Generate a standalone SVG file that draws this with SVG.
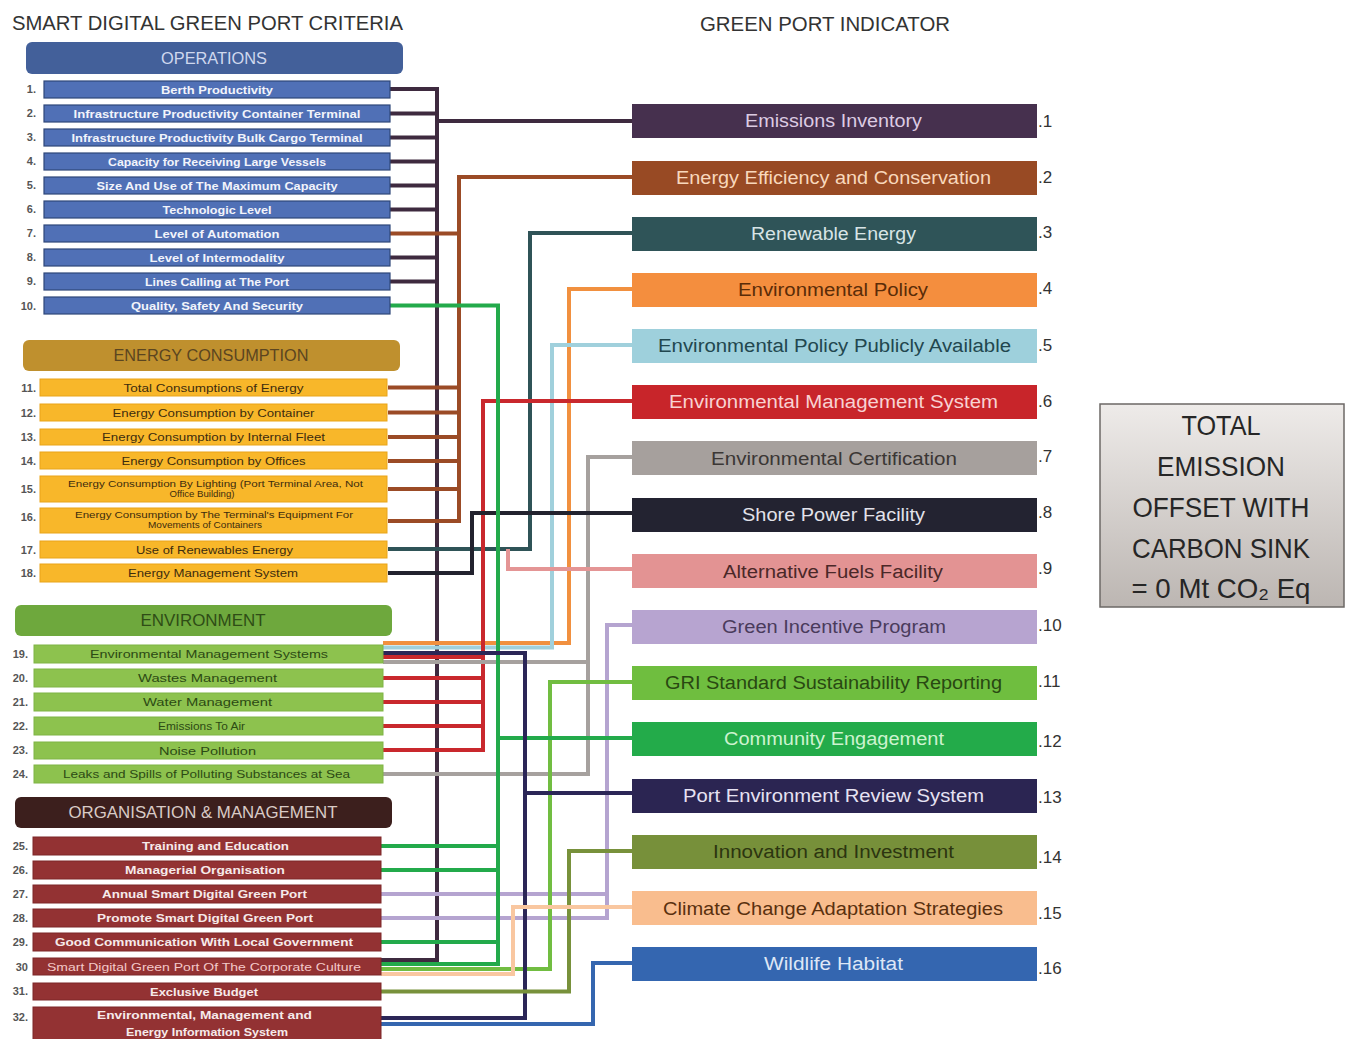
<svg xmlns="http://www.w3.org/2000/svg" width="1348" height="1039" viewBox="0 0 1348 1039">
  <defs>
    <linearGradient id="sinkFill" x1="0" y1="0" x2="0" y2="1">
      <stop offset="0" stop-color="#eeebe9"/>
      <stop offset="1" stop-color="#bcb6b2"/>
    </linearGradient>
    <style>
      text { font-family: "Liberation Sans", Arial, sans-serif; }
      .title { font-size: 20px; fill: #333333; }
      .hdr { font-size: 16px; text-anchor: middle; }
      .ops rect { fill: #5070b6; stroke: #2e4679; stroke-width: 1.2; }
      .ops text { font-size: 11px; font-weight: bold; fill: #f2f4fb; text-anchor: middle; }
      .nrg rect { fill: #f8b72a; stroke: #e9a418; stroke-width: 1; }
      .nrg text { font-size: 11px; fill: #3d2c0e; text-anchor: middle; }
      .env rect { fill: #8dc24e; stroke: #7fb444; stroke-width: 1; }
      .env text { font-size: 11.5px; fill: #2c4a14; text-anchor: middle; }
      .org rect { fill: #933233; stroke: #7d2728; stroke-width: 1; }
      .org text { font-size: 11px; font-weight: bold; fill: #f6eaea; text-anchor: middle; }
      g > text.num { font-size: 11px; fill: #555555; text-anchor: end; font-weight: bold; }
      .ind text.lbl { font-size: 18px; text-anchor: middle; }
      .ind text.idx { font-size: 17px; fill: #333; }
      .sink text { font-size: 28px; fill: #262626; text-anchor: middle; }
      #connectors path { fill: none; stroke-width: 4; stroke-linejoin: miter; stroke-linecap: butt; }
    </style>
  </defs>

  <rect width="1348" height="1039" fill="#ffffff"/>

  <!-- column titles -->
  <text class="title" x="12" y="30" textLength="391" lengthAdjust="spacingAndGlyphs">SMART DIGITAL GREEN PORT CRITERIA</text>
  <text class="title" x="700" y="31" textLength="250" lengthAdjust="spacingAndGlyphs">GREEN PORT INDICATOR</text>

  <!-- category headers -->
  <g id="hdr-operations">
    <rect x="26" y="42" width="377" height="32" rx="6" fill="#43609a"/>
    <text class="hdr" x="214" y="64" fill="#cfd8ee" textLength="106" lengthAdjust="spacingAndGlyphs">OPERATIONS</text>
  </g>
  <g id="hdr-energy">
    <rect x="23" y="340" width="377" height="31" rx="6" fill="#bf902e"/>
    <text class="hdr" x="211" y="361" fill="#5b4520" textLength="195" lengthAdjust="spacingAndGlyphs">ENERGY CONSUMPTION</text>
  </g>
  <g id="hdr-environment">
    <rect x="15" y="605" width="377" height="31" rx="6" fill="#6ea83d"/>
    <text class="hdr" x="203" y="626" fill="#2f4d16" textLength="125" lengthAdjust="spacingAndGlyphs">ENVIRONMENT</text>
  </g>
  <g id="hdr-organisation">
    <rect x="15" y="797" width="377" height="31" rx="6" fill="#3c1f1d"/>
    <text class="hdr" x="203" y="818" fill="#d9cbc6" textLength="269" lengthAdjust="spacingAndGlyphs">ORGANISATION &amp; MANAGEMENT</text>
  </g>

  <!-- connectors -->
  <g id="connectors">
    <path stroke="#3e2a3f" d="M390 89 H437 V960 H381 M437 121 H632 M390 113.5 H437 M390 137.5 H437 M390 161.5 H437 M390 185.5 H437 M390 209.5 H437 M390 257.5 H437 M390 281.5 H437"/>
    <path stroke="#9b4b26" d="M632 177 H459 V521 H388 M390 233.5 H459 M388 387.5 H459 M388 412.5 H459 M388 437 H459 M388 461 H459 M388 489 H459"/>
    <path stroke="#2f5357" d="M632 233 H530 V549 H388"/>
    <path stroke="#f1903f" d="M632 289 H569 V643 H383"/>
    <path stroke="#a0d0dc" d="M632 345 H552 V647.5 H383"/>
    <path stroke="#c9282d" d="M632 401 H483 V750 H383 M383 657 H483 M383 678 H483 M383 702 H483 M383 726 H483"/>
    <path stroke="#a6a19e" d="M632 457 H588 V774 H383 M383 662 H588"/>
    <path stroke="#22222e" d="M632 513 H472 V573 H388"/>
    <path stroke="#e49595" d="M632 569 H508 V549"/>
    <path stroke="#b5a4d0" d="M632 625 H607 V918 H381 M381 894 H607"/>
    <path stroke="#71bd41" d="M632 682 H550 V969 H381"/>
    <path stroke="#23aa4b" d="M390 305.5 H498 V964 H381 M498 738 H632 M381 846 H498 M381 870 H498 M381 942 H498"/>
    <path stroke="#2b2657" d="M383 653 H525 V1018 H381 M525 793 H632"/>
    <path stroke="#78913b" d="M632 851 H569 V991.5 H381"/>
    <path stroke="#f9c7a0" stroke-width="3" d="M632 907 H513 V974 H381"/>
    <path stroke="#3566af" d="M632 963 H593 V1024 H381"/>
  </g>

  <!-- OPERATIONS criteria -->
  <g class="ops">
    <g id="c1"><text class="num" x="36" y="93">1.</text><rect x="44" y="81" width="346" height="17"/><text x="217" y="93.5" textLength="112" lengthAdjust="spacingAndGlyphs">Berth Productivity</text></g>
    <g id="c2"><text class="num" x="36" y="117">2.</text><rect x="44" y="105" width="346" height="17"/><text x="217" y="117.5" textLength="287" lengthAdjust="spacingAndGlyphs">Infrastructure Productivity Container Terminal</text></g>
    <g id="c3"><text class="num" x="36" y="141">3.</text><rect x="44" y="129" width="346" height="17"/><text x="217" y="141.5" textLength="291" lengthAdjust="spacingAndGlyphs">Infrastructure Productivity Bulk Cargo Terminal</text></g>
    <g id="c4"><text class="num" x="36" y="165">4.</text><rect x="44" y="153" width="346" height="17"/><text x="217" y="165.5" textLength="218" lengthAdjust="spacingAndGlyphs">Capacity for Receiving Large Vessels</text></g>
    <g id="c5"><text class="num" x="36" y="189">5.</text><rect x="44" y="177" width="346" height="17"/><text x="217" y="189.5" textLength="241" lengthAdjust="spacingAndGlyphs">Size And Use of The Maximum Capacity</text></g>
    <g id="c6"><text class="num" x="36" y="213">6.</text><rect x="44" y="201" width="346" height="17"/><text x="217" y="213.5" textLength="109" lengthAdjust="spacingAndGlyphs">Technologic Level</text></g>
    <g id="c7"><text class="num" x="36" y="237">7.</text><rect x="44" y="225" width="346" height="17"/><text x="217" y="237.5" textLength="125" lengthAdjust="spacingAndGlyphs">Level of Automation</text></g>
    <g id="c8"><text class="num" x="36" y="261">8.</text><rect x="44" y="249" width="346" height="17"/><text x="217" y="261.5" textLength="135" lengthAdjust="spacingAndGlyphs">Level of Intermodality</text></g>
    <g id="c9"><text class="num" x="36" y="285">9.</text><rect x="44" y="273" width="346" height="17"/><text x="217" y="285.5" textLength="144" lengthAdjust="spacingAndGlyphs">Lines Calling at The Port</text></g>
    <g id="c10"><text class="num" x="36" y="310">10.</text><rect x="44" y="297" width="346" height="17"/><text x="217" y="309.5" textLength="172" lengthAdjust="spacingAndGlyphs">Quality, Safety And Security</text></g>
  </g>

  <!-- ENERGY CONSUMPTION criteria -->
  <g class="nrg">
    <g id="c11"><text class="num" x="36" y="392">11.</text><rect x="40" y="379" width="347" height="17"/><text x="213.5" y="391.5" textLength="180" lengthAdjust="spacingAndGlyphs">Total Consumptions of Energy</text></g>
    <g id="c12"><text class="num" x="36" y="417">12.</text><rect x="40" y="404" width="347" height="17"/><text x="213.5" y="416.5" textLength="202" lengthAdjust="spacingAndGlyphs">Energy Consumption by Container</text></g>
    <g id="c13"><text class="num" x="36" y="441">13.</text><rect x="40" y="429" width="347" height="16"/><text x="213.5" y="441" textLength="223" lengthAdjust="spacingAndGlyphs">Energy Consumption by Internal Fleet</text></g>
    <g id="c14"><text class="num" x="36" y="465">14.</text><rect x="40" y="452" width="347" height="17"/><text x="213.5" y="464.5" textLength="184" lengthAdjust="spacingAndGlyphs">Energy Consumption by Offices</text></g>
    <g id="c15"><text class="num" x="36" y="493">15.</text><rect x="40" y="476" width="347" height="26"/>
      <text x="215.5" y="487" style="font-size:9.5px" textLength="295" lengthAdjust="spacingAndGlyphs">Energy Consumption By Lighting (Port Terminal Area, Not</text>
      <text x="202" y="497" style="font-size:9.5px" textLength="65" lengthAdjust="spacingAndGlyphs">Office Building)</text></g>
    <g id="c16"><text class="num" x="36" y="521">16.</text><rect x="40" y="508" width="347" height="25"/>
      <text x="214" y="518" style="font-size:9.5px" textLength="278" lengthAdjust="spacingAndGlyphs">Energy Consumption by The Terminal's Equipment For</text>
      <text x="205" y="528" style="font-size:9.5px" textLength="114" lengthAdjust="spacingAndGlyphs">Movements of Containers</text></g>
    <g id="c17"><text class="num" x="36" y="554">17.</text><rect x="40" y="541" width="347" height="17"/><text x="214.5" y="553.5" textLength="157" lengthAdjust="spacingAndGlyphs">Use of Renewables Energy</text></g>
    <g id="c18"><text class="num" x="36" y="577">18.</text><rect x="40" y="564" width="347" height="18"/><text x="213" y="577" textLength="170" lengthAdjust="spacingAndGlyphs">Energy Management System</text></g>
  </g>

  <!-- ENVIRONMENT criteria -->
  <g class="env">
    <g id="c19"><text class="num" x="28" y="658">19.</text><rect x="34" y="645" width="349" height="18"/><text x="209" y="658" textLength="238" lengthAdjust="spacingAndGlyphs">Environmental Management Systems</text></g>
    <g id="c20"><text class="num" x="28" y="682">20.</text><rect x="34" y="669" width="349" height="18"/><text x="207.5" y="682" textLength="139" lengthAdjust="spacingAndGlyphs">Wastes Management</text></g>
    <g id="c21"><text class="num" x="28" y="706">21.</text><rect x="34" y="693" width="349" height="18"/><text x="207.5" y="706" textLength="129" lengthAdjust="spacingAndGlyphs">Water Management</text></g>
    <g id="c22"><text class="num" x="28" y="730">22.</text><rect x="34" y="717" width="349" height="18"/><text x="201.5" y="730" textLength="87" lengthAdjust="spacingAndGlyphs">Emissions To Air</text></g>
    <g id="c23"><text class="num" x="28" y="754">23.</text><rect x="34" y="742" width="349" height="17"/><text x="207.5" y="754.5" textLength="97" lengthAdjust="spacingAndGlyphs">Noise Pollution</text></g>
    <g id="c24"><text class="num" x="28" y="778">24.</text><rect x="34" y="765" width="349" height="18"/><text x="206.5" y="778" textLength="287" lengthAdjust="spacingAndGlyphs">Leaks and Spills of Polluting Substances at Sea</text></g>
  </g>

  <!-- ORGANISATION & MANAGEMENT criteria -->
  <g class="org">
    <g id="c25"><text class="num" x="28" y="850">25.</text><rect x="33" y="837" width="348" height="18"/><text x="215.5" y="850" textLength="147" lengthAdjust="spacingAndGlyphs">Training and Education</text></g>
    <g id="c26"><text class="num" x="28" y="874">26.</text><rect x="33" y="861" width="348" height="18"/><text x="205" y="874" textLength="160" lengthAdjust="spacingAndGlyphs">Managerial Organisation</text></g>
    <g id="c27"><text class="num" x="28" y="898">27.</text><rect x="33" y="885" width="348" height="18"/><text x="204.5" y="898" textLength="205" lengthAdjust="spacingAndGlyphs">Annual Smart Digital Green Port</text></g>
    <g id="c28"><text class="num" x="28" y="922">28.</text><rect x="33" y="909" width="348" height="18"/><text x="205" y="922" textLength="216" lengthAdjust="spacingAndGlyphs">Promote Smart Digital Green Port</text></g>
    <g id="c29"><text class="num" x="28" y="946">29.</text><rect x="33" y="933" width="348" height="18"/><text x="204" y="946" textLength="298" lengthAdjust="spacingAndGlyphs">Good Communication With Local Government</text></g>
    <g id="c30"><text class="num" x="28" y="971">30</text><rect x="33" y="958" width="348" height="17"/><text x="204" y="970.5" style="font-weight:normal;fill:#f3c9c9" textLength="314" lengthAdjust="spacingAndGlyphs">Smart Digital Green Port Of The Corporate Culture</text></g>
    <g id="c31"><text class="num" x="28" y="995">31.</text><rect x="33" y="983" width="348" height="17"/><text x="204" y="995.5" textLength="108" lengthAdjust="spacingAndGlyphs">Exclusive Budget</text></g>
    <g id="c32"><text class="num" x="28" y="1021">32.</text><rect x="33" y="1007" width="348" height="36"/>
      <text x="204.5" y="1019" textLength="215" lengthAdjust="spacingAndGlyphs">Environmental, Management and</text>
      <text x="207" y="1036" textLength="162" lengthAdjust="spacingAndGlyphs">Energy Information System</text></g>
  </g>

  <!-- green port indicators -->
  <g class="ind">
    <g id="i1"><rect x="632" y="104" width="405" height="34" fill="#46304e"/><text class="lbl" x="833.5" y="127" fill="#dccbe2" textLength="177" lengthAdjust="spacingAndGlyphs">Emissions Inventory</text><text class="idx" x="1038" y="127">.1</text></g>
    <g id="i2"><rect x="632" y="161" width="405" height="34" fill="#984a24"/><text class="lbl" x="833.5" y="184" fill="#f8d8bc" textLength="315" lengthAdjust="spacingAndGlyphs">Energy Efficiency and Conservation</text><text class="idx" x="1038" y="183">.2</text></g>
    <g id="i3"><rect x="632" y="217" width="405" height="34" fill="#2f5458"/><text class="lbl" x="833.5" y="240" fill="#d8e4e6" textLength="165" lengthAdjust="spacingAndGlyphs">Renewable Energy</text><text class="idx" x="1038" y="238">.3</text></g>
    <g id="i4"><rect x="632" y="273" width="405" height="34" fill="#f48e3e"/><text class="lbl" x="833" y="296" fill="#5a2c08" textLength="190" lengthAdjust="spacingAndGlyphs">Environmental Policy</text><text class="idx" x="1038" y="294">.4</text></g>
    <g id="i5"><rect x="632" y="329" width="405" height="34" fill="#9ed0dc"/><text class="lbl" x="834.5" y="352" fill="#22474f" textLength="353" lengthAdjust="spacingAndGlyphs">Environmental Policy Publicly Available</text><text class="idx" x="1038" y="351">.5</text></g>
    <g id="i6"><rect x="632" y="385" width="405" height="34" fill="#c8252a"/><text class="lbl" x="833.5" y="408" fill="#f8d2d2" textLength="329" lengthAdjust="spacingAndGlyphs">Environmental Management System</text><text class="idx" x="1038" y="407">.6</text></g>
    <g id="i7"><rect x="632" y="441" width="405" height="34" fill="#a6a09d"/><text class="lbl" x="834" y="465" fill="#3b3735" textLength="246" lengthAdjust="spacingAndGlyphs">Environmental Certification</text><text class="idx" x="1038" y="462">.7</text></g>
    <g id="i8"><rect x="632" y="498" width="405" height="34" fill="#232331"/><text class="lbl" x="833.5" y="521" fill="#e2e2ea" textLength="183" lengthAdjust="spacingAndGlyphs">Shore Power Facility</text><text class="idx" x="1038" y="518">.8</text></g>
    <g id="i9"><rect x="632" y="554" width="405" height="34" fill="#e39393"/><text class="lbl" x="833" y="578" fill="#4a2828" textLength="220" lengthAdjust="spacingAndGlyphs">Alternative Fuels Facility</text><text class="idx" x="1038" y="574">.9</text></g>
    <g id="i10"><rect x="632" y="610" width="405" height="34" fill="#b7a4d0"/><text class="lbl" x="834" y="633" fill="#4a3b5c" textLength="224" lengthAdjust="spacingAndGlyphs">Green Incentive Program</text><text class="idx" x="1038" y="631">.10</text></g>
    <g id="i11"><rect x="632" y="666" width="405" height="34" fill="#6fbe3f"/><text class="lbl" x="833.5" y="689" fill="#294812" textLength="337" lengthAdjust="spacingAndGlyphs">GRI Standard Sustainability Reporting</text><text class="idx" x="1038" y="687">.11</text></g>
    <g id="i12"><rect x="632" y="722" width="405" height="34" fill="#23ab4a"/><text class="lbl" x="834" y="745" fill="#cdf3cf" textLength="220" lengthAdjust="spacingAndGlyphs">Community Engagement</text><text class="idx" x="1038" y="747">.12</text></g>
    <g id="i13"><rect x="632" y="779" width="405" height="34" fill="#2b2552"/><text class="lbl" x="833.5" y="802" fill="#e6e2f2" textLength="301" lengthAdjust="spacingAndGlyphs">Port Environment Review System</text><text class="idx" x="1038" y="803">.13</text></g>
    <g id="i14"><rect x="632" y="835" width="405" height="34" fill="#77903a"/><text class="lbl" x="833.5" y="858" fill="#2c3510" textLength="241" lengthAdjust="spacingAndGlyphs">Innovation and Investment</text><text class="idx" x="1038" y="863">.14</text></g>
    <g id="i15"><rect x="632" y="891" width="405" height="34" fill="#f9bd8e"/><text class="lbl" x="833" y="915" fill="#5a300e" textLength="340" lengthAdjust="spacingAndGlyphs">Climate Change Adaptation Strategies</text><text class="idx" x="1038" y="919">.15</text></g>
    <g id="i16"><rect x="632" y="947" width="405" height="34" fill="#3466b0"/><text class="lbl" x="833.5" y="970" fill="#dee7f6" textLength="139" lengthAdjust="spacingAndGlyphs">Wildlife Habitat</text><text class="idx" x="1038" y="974">.16</text></g>
  </g>

  <!-- carbon sink summary -->
  <g id="total-emission" class="sink">
    <rect x="1100" y="404" width="244" height="203" fill="url(#sinkFill)" stroke="#6c6866" stroke-width="1.5"/>
    <text x="1221" y="435" textLength="79" lengthAdjust="spacingAndGlyphs">TOTAL</text>
    <text x="1221" y="476" textLength="128" lengthAdjust="spacingAndGlyphs">EMISSION</text>
    <text x="1221" y="517" textLength="177" lengthAdjust="spacingAndGlyphs">OFFSET WITH</text>
    <text x="1221" y="558" textLength="178" lengthAdjust="spacingAndGlyphs">CARBON SINK</text>
    <text x="1221" y="598" textLength="179" lengthAdjust="spacingAndGlyphs">= 0 Mt CO₂ Eq</text>
  </g>
</svg>
